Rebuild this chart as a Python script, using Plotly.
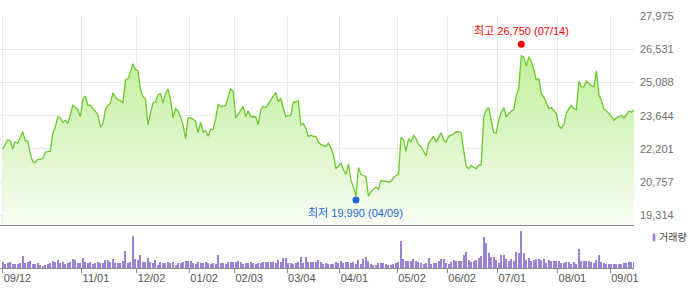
import plotly.graph_objects as go

# ---- data ----
close = [
    22200, 22400, 22600, 22550, 22200, 22500, 22450, 22700, 22950, 22550,
    22550, 22000, 21650, 21600, 21750, 21750, 21800, 22050, 22100, 22100,
    22900, 23150, 23600, 23550, 23350, 23450, 23300, 23700, 24100, 24000,
    23900, 23600, 24350, 24500, 24100, 24100, 23950, 23800, 23700, 23150,
    23300, 23900, 24100, 24200, 24650, 24450, 24350, 24300, 24200, 25200,
    25250, 25550, 25900, 25650, 25600, 24750, 24500, 24350, 23250, 23750,
    24200, 24250, 24550, 24600, 24200, 24600, 24800, 24350, 23550, 23950,
    23850, 23600, 23250, 22650, 23550, 23550, 23500, 23400, 22900, 23350,
    22950, 23000, 22750, 23050, 23050, 23500, 24150, 24050, 24050, 24100,
    24450, 24800, 24700, 23550, 23700, 23900, 24050, 23600, 23850, 23600,
    23600, 23600, 23250, 23900, 24050, 24000, 24150, 24350, 24500, 24650,
    24250, 24400, 24000, 23600, 23650, 23650, 24250, 24250, 24300, 23250,
    23300, 23100, 22750, 22800, 22750, 22750, 22500, 22400, 22350, 22300,
    22450, 22250, 21950, 21350, 21450, 21600, 21300, 21100, 21550, 20850,
    20550, 20150, 21400, 21100, 21050, 21000, 20150, 20350, 20450, 20550,
    20450, 20850, 20800, 20800, 20750, 20800, 20950, 21050, 21100, 22700,
    22600, 22100, 22650, 22500, 22800, 22650, 22400, 22300, 22100, 21900,
    22450, 22600, 22750, 22500, 22700, 22900, 22600, 22500, 22750, 22800,
    22850, 22950, 22950, 22900, 22150, 21450, 21350, 21500, 21400, 21350,
    21500, 21500, 23550, 23900, 24000, 23400, 22900, 22900, 23450, 23800,
    24000, 23600, 23750, 23850, 23900, 24500, 24850, 26250, 26200, 25800,
    26200, 26000, 25650, 25200, 25250, 24600, 24450, 24200, 23950, 24000,
    23850, 23750, 23200, 23100, 23250, 23750, 23950, 24100, 23950, 23900,
    25150, 24900, 24900, 25150, 25050, 24950, 24900, 25600, 24550, 24300,
    23950, 23850, 23750, 23600, 23450, 23550, 23600, 23650, 23550, 23700,
    23850, 23800, 23900,
]

volume = [
    19, 13, 15, 17, 11, 13, 13, 15, 34, 15,
    18, 21, 11, 11, 15, 10, 7, 10, 13, 15,
    21, 19, 24, 15, 18, 13, 15, 17, 27, 23,
    15, 15, 30, 17, 15, 17, 13, 14, 19, 15,
    15, 24, 24, 17, 25, 15, 14, 15, 21, 49,
    16, 17, 95, 25, 23, 37, 17, 19, 29, 19,
    15, 23, 10, 17, 14, 14, 17, 14, 19, 10,
    14, 14, 17, 21, 21, 22, 15, 13, 17, 15,
    15, 17, 15, 12, 14, 13, 37, 15, 14, 12,
    17, 19, 19, 19, 21, 17, 13, 15, 15, 17,
    15, 13, 15, 15, 19, 18, 18, 17, 19, 15,
    23, 17, 30, 28, 14, 15, 12, 15, 19, 32,
    15, 33, 17, 17, 17, 17, 23, 17, 12, 15,
    11, 13, 12, 17, 14, 20, 15, 18, 17,
    15, 17, 13, 23, 13, 27, 31, 20, 13, 10,
    9, 15, 14, 15, 11, 9, 10, 11, 15, 17,
    79,
    25, 20, 20, 20, 25, 20, 17, 15, 12, 15,
    28,
    13, 14, 14, 20, 25, 27, 15, 13, 19, 23, 20, 21, 21,
    39, 46,
    23, 19, 21, 23, 28, 35,
    91, 73, 43, 32, 31, 23, 15, 37, 37, 25,
    20, 27, 21, 48, 45, 110, 45, 23, 30, 20,
    23, 27, 25, 23, 27, 15, 23, 20, 20, 20,
    20, 15, 15, 17, 19, 13, 17, 13,
    55,
    22, 20, 20, 20, 17, 15, 23, 37,
    17, 15, 13, 12, 13, 13, 12, 13, 13, 15, 15, 18, 19, 19,
]

tick_days = [0, 32, 54, 75, 93, 114, 135, 158, 178, 198, 222, 243]
tick_labels = ["09/12", "11/01", "12/02", "01/02", "02/03", "03/04",
               "04/01", "05/02", "06/02", "07/01", "08/01", "09/01"]
price_ticks = [19314, 20757, 22201, 23644, 25088, 26531, 27975]

high_day, high_val, high_date = 207, 26750, "07/14"
low_day, low_val, low_date = 141, 19990, "04/09"

# ---- figure ----
x = list(range(len(close)))
n = len(close)
xr = [-1.08, n - 1]
y_lo = 18898
font_main = "Liberation Sans, Noto Sans CJK KR, sans-serif"

fig = go.Figure()

fig.add_trace(go.Scatter(
    x=x, y=close, mode="lines",
    line=dict(color="#6bc92e", width=1.3),
    fill="tozeroy",
    fillgradient=dict(type="vertical",
                      colorscale=[[0, "rgba(247,253,243,1)"], [1, "rgba(193,239,155,1)"]],
                      start=y_lo, stop=max(close)),
    xaxis="x", yaxis="y", hoverinfo="skip", showlegend=False,
))

fig.add_trace(go.Scatter(
    x=[high_day, low_day], y=[high_val, low_val], mode="markers",
    marker=dict(color=["#ff0000", "#1f66d6"], size=7),
    xaxis="x", yaxis="y", hoverinfo="skip", showlegend=False,
))

fig.add_trace(go.Bar(
    x=x, y=volume, width=0.45,
    marker=dict(color="#9a82d4", line=dict(width=0)),
    xaxis="x2", yaxis="y2", hoverinfo="skip", showlegend=False,
))

split = 0.1704
grid_c = "#e8e8e8"
axis_c = "#8a8a8a"

fig.update_layout(
    width=700, height=289,
    margin=dict(l=0, r=66, t=16, b=21),
    paper_bgcolor="white", plot_bgcolor="white",
    showlegend=False,
    bargap=0,
    xaxis=dict(domain=[0, 1], range=xr, anchor="y",
               tickvals=[max(d - 0.5, 0) for d in tick_days],
               showticklabels=False, ticks="",
               showgrid=True, gridcolor=grid_c, gridwidth=1,
               zeroline=False, showline=True, linecolor=axis_c, linewidth=1),
    yaxis=dict(domain=[split, 1], range=[y_lo, price_ticks[-1]], anchor="x",
               side="right", tickvals=price_ticks,
               ticktext=[f"{v:,}" for v in price_ticks],
               ticks="", ticklabelstandoff=5,
               tickfont=dict(family=font_main, size=11, color="#707070"),
               showgrid=True, gridcolor=grid_c, gridwidth=1,
               zeroline=False, showline=False),
    xaxis2=dict(domain=[0, 1], range=xr, anchor="y2", matches="x",
                tickvals=[max(d - 0.5, 0) for d in tick_days], ticktext=tick_labels,
                ticks="outside", ticklen=4, tickcolor=axis_c,
                ticklabelposition="outside right",
                tickfont=dict(family=font_main, size=11, color="#555555"),
                showgrid=False, zeroline=False,
                showline=True, linecolor=axis_c, linewidth=1),
    yaxis2=dict(domain=[0, split], range=[0, 127], anchor="x2",
                visible=False, showgrid=False, zeroline=False),
)

fig.add_annotation(
    x=high_day, y=high_val, xref="x", yref="y",
    text=f"최고 {high_val:,} ({high_date})", showarrow=False,
    yshift=13, font=dict(family=font_main, size=11, color="#ff0000"),
)
fig.add_annotation(
    x=low_day, y=low_val, xref="x", yref="y",
    text=f"최저 {low_val:,} ({low_date})", showarrow=False,
    yshift=-13, font=dict(family=font_main, size=11, color="#1f66d6"),
)

# volume legend
fig.add_shape(type="rect", xref="paper", yref="paper",
              x0=652.7 / 634, x1=655.3 / 634,
              y0=(268.3 - 241.5) / 252.3, y1=(268.3 - 233.8) / 252.3,
              fillcolor="#9a82d4", line=dict(width=0))
fig.add_annotation(x=657 / 634, y=(268.3 - 237.6) / 252.3, xref="paper", yref="paper",
                   xanchor="left", yanchor="middle", showarrow=False,
                   text="거래량", font=dict(family=font_main, size=10, color="#444444"))

fig.write_html("out.html", config={"displayModeBar": False})
